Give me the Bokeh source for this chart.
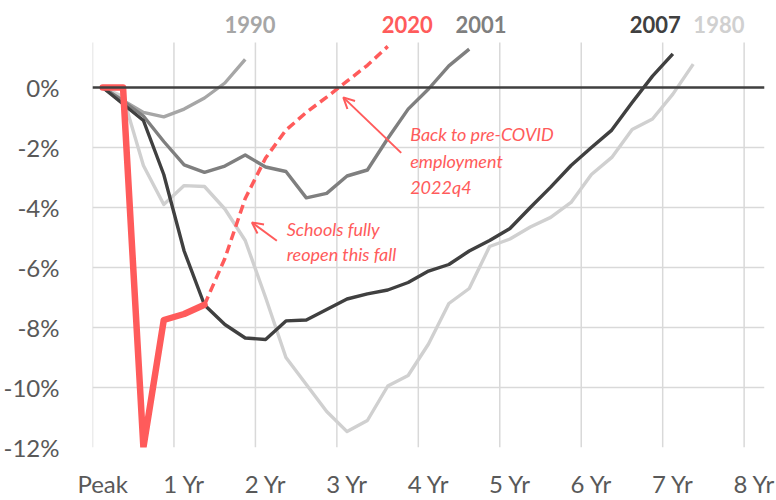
from bokeh.plotting import figure
from bokeh.models import FixedTicker, Span, Label, Arrow, OpenHead, Range1d
from bokeh.embed import file_html
from bokeh.resources import INLINE

# Employment, % change from the pre-recession peak; one value per quarter, starting at the peak
rec_1980 = [0, -0.3, -2.6, -3.9, -3.27, -3.3, -4.05, -5.1, -7.0, -9.0, -9.9, -10.8, -11.47,
            -11.1, -9.95, -9.6, -8.55, -7.2, -6.7, -5.3, -5.05, -4.65, -4.33, -3.83, -2.9,
            -2.33, -1.4, -1.05, -0.22, 0.78]
rec_1990 = [0, -0.43, -0.83, -0.98, -0.72, -0.35, 0.15, 0.94]
rec_2001 = [0, -0.45, -0.95, -1.8, -2.58, -2.83, -2.62, -2.25, -2.65, -2.8, -3.68, -3.53,
            -2.95, -2.75, -1.7, -0.72, -0.05, 0.72, 1.28]
rec_2007 = [0, -0.55, -1.1, -2.9, -5.45, -7.25, -7.9, -8.35, -8.4, -7.78, -7.75, -7.4, -7.05,
            -6.88, -6.75, -6.5, -6.12, -5.9, -5.45, -5.1, -4.7, -4.0, -3.32, -2.6, -2.0,
            -1.42, -0.5, 0.38, 1.12]
rec_2020 = [0, 0, -12.0, -7.75, -7.55, -7.24]
proj_2020_start = 5  # projection starts at the last actual quarter
proj_2020 = [-7.24, -5.7, -3.7, -2.35, -1.42, -0.83, -0.32, 0.21, 0.74, 1.37]

x_tick_labels = ["Peak", "1 Yr", "2 Yr", "3 Yr", "4 Yr", "5 Yr", "6 Yr", "7 Yr", "8 Yr"]
y_ticks = [0, -2, -4, -6, -8, -10, -12]
y_tick_labels = ["0%", "-2%", "-4%", "-6%", "-8%", "-10%", "-12%"]

Y_MIN, Y_TOP_GRID, Y_MAX = -12, 1.5, 2.9
X_MAX = 8.25

RED = "#ff5b5b"
FONT = "Lato"


def qx(n, start=0):
    # quarter index -> years after peak (points sit in the middle of each quarter)
    return [(start + i + 0.5) / 4 for i in range(n)]


p = figure(width=776, height=500, x_range=Range1d(0, X_MAX), y_range=Range1d(Y_MIN, Y_MAX),
           output_backend="svg", toolbar_location=None,
           min_border_left=90, min_border_right=12, min_border_top=0, min_border_bottom=53)
p.outline_line_color = None

# grids: horizontal from the axis ticks, vertical ones stop at the top of the value area
p.xgrid.visible = False
p.ygrid.ticker = FixedTicker(ticks=y_ticks)
p.ygrid.grid_line_color = "#d9d9d9"
p.ygrid.grid_line_width = 1.5
grid_years = list(range(len(x_tick_labels)))
p.segment(x0=grid_years, y0=[Y_MIN] * len(grid_years), x1=grid_years,
          y1=[Y_TOP_GRID] * len(grid_years), line_color="#d9d9d9", line_width=1.5)

# axes
p.xaxis.ticker = FixedTicker(ticks=[i + 0.125 for i in range(len(x_tick_labels))])
p.xaxis.major_label_overrides = {i + 0.125: lab for i, lab in enumerate(x_tick_labels)}
p.yaxis.ticker = FixedTicker(ticks=y_ticks)
p.yaxis.major_label_overrides = {t: lab for t, lab in zip(y_ticks, y_tick_labels)}
for ax in (p.xaxis, p.yaxis):
    ax.axis_line_color = None
    ax.major_tick_line_color = None
    ax.minor_tick_line_color = None
    ax.major_label_text_font = FONT
    ax.major_label_text_font_size = "24px"
    ax.major_label_text_color = "#595959"
p.xaxis.major_label_standoff = 15
p.yaxis.major_label_standoff = 27

p.add_layout(Span(location=0, dimension="width", line_color="#404040", line_width=2.5))

p.line(qx(len(rec_1980)), rec_1980, line_color="#d0d0d0", line_width=3.4, line_join="round")
p.line(qx(len(rec_1990)), rec_1990, line_color="#a6a6a6", line_width=3.4, line_join="round")
p.line(qx(len(rec_2001)), rec_2001, line_color="#7f7f7f", line_width=3.4, line_join="round")
p.line(qx(len(rec_2007)), rec_2007, line_color="#404040", line_width=3.4, line_join="round")
p.line(qx(len(proj_2020), proj_2020_start), proj_2020, line_color=RED, line_width=3.5,
       line_dash="9 5")
p.line(qx(len(rec_2020)), rec_2020, line_color=RED, line_width=6.5, line_join="round",
       line_cap="round")

# series names above the chart
for txt, x, col in [("1990", 1.933, "#a6a6a6"), ("2020", 3.865, RED), ("2001", 4.77, "#7f7f7f"),
                    ("2007", 6.91, "#404040"), ("1980", 7.69, "#d0d0d0")]:
    p.add_layout(Label(x=x, y=2.09, text=txt, text_align="center", text_baseline="middle",
                       text_font=FONT, text_font_style="bold", text_font_size="22px",
                       text_color=col))

# annotations
for txt, y in [("Schools fully", -4.71), ("reopen this fall", -5.54)]:
    p.add_layout(Label(x=2.385, y=y, text=txt, text_baseline="middle", text_font=FONT,
                       text_font_style="italic", text_font_size="18px", text_color=RED))
for txt, y in [("Back to pre-COVID", -1.56), ("employment", -2.44), ("2022q4", -3.33)]:
    p.add_layout(Label(x=3.90, y=y, text=txt, text_baseline="middle", text_font=FONT,
                       text_font_style="italic", text_font_size="18px", text_color=RED))

p.add_layout(Arrow(x_start=2.263, y_start=-5.11, x_end=1.957, y_end=-4.5,
                   line_color=RED, line_width=2,
                   end=OpenHead(size=11, line_color=RED, line_width=2)))
p.add_layout(Arrow(x_start=3.79, y_start=-2.18, x_end=3.079, y_end=-0.33,
                   line_color=RED, line_width=2,
                   end=OpenHead(size=11, line_color=RED, line_width=2)))

open("out.html", "w").write(file_html(p, INLINE))
